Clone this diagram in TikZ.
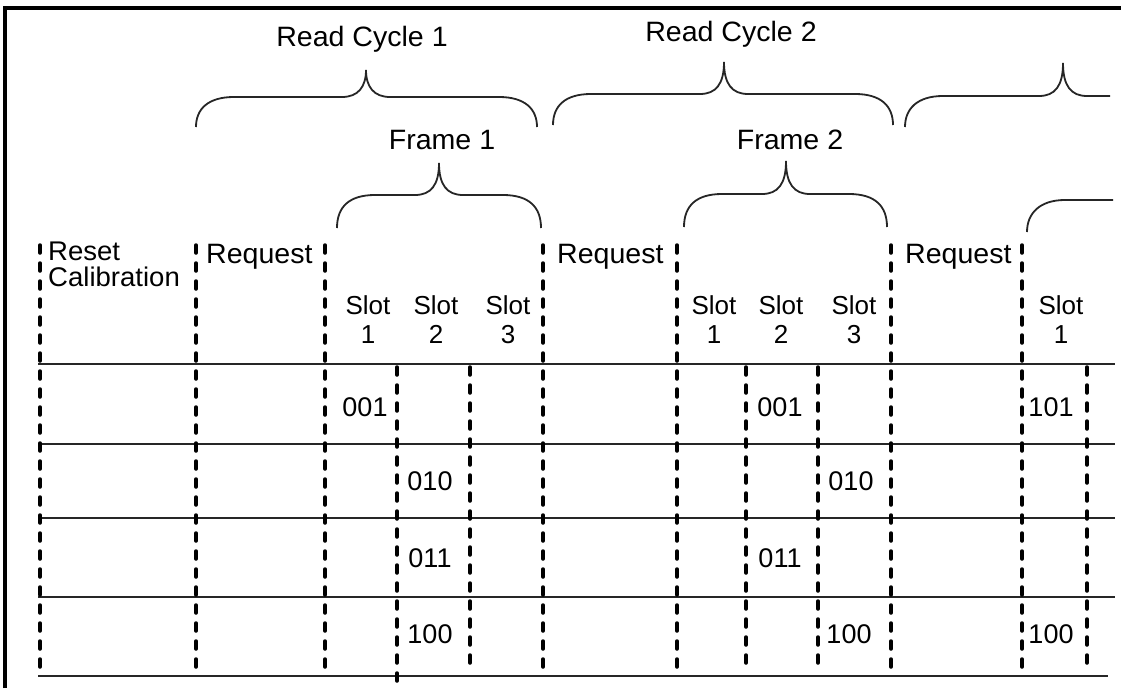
\documentclass[tikz,border=0pt]{standalone}
\usepackage{fontspec}
\setmainfont{Liberation Sans}
\newfontfamily\widesans{Liberation Sans}[FakeStretch=1.02]
\newcommand{\tmbrace}[6]{%
 \draw[brace] (#1,#4) .. controls (#1,{#5+12}) and ({#1+12},#5) .. ({#1+38},#5)
   -- ({#3-24},#5) .. controls ({#3-8},#5) and (#3,{#5-10}) .. (#3,#6)
   .. controls (#3,{#5-10}) and ({#3+8},#5) .. ({#3+24},#5)
   -- ({#2-38},#5) .. controls ({#2-12},#5) and (#2,{#5+12}) .. (#2,#4);}
\begin{document}
\begin{tikzpicture}[x=1pt,y=-1pt,
  dline/.style={line width=3.5pt, dash pattern=on 8pt off 10pt, line cap=round},
  hline/.style={line width=1.6pt, black!85},
  brace/.style={line width=1.8pt, black!85},
  lbl/.style={font=\widesans\fontsize{28}{30}\selectfont, inner sep=0pt},
  two/.style={inner sep=0pt, align=center, font=\fontsize{26}{29}\selectfont},
  cell/.style={inner sep=0pt, font=\fontsize{27}{30}\selectfont}]
\useasboundingbox (0,0) rectangle (1121,688);
\fill[white] (0,0) rectangle (1121,688);
% border
\draw[line width=3.5pt] (5,688) -- (5,8) -- (1121,8);
% braces
\tmbrace{196}{537}{366}{127}{97}{70}
\tmbrace{553}{893}{724}{125}{94}{62}
\draw[brace] (905,127) .. controls (905,109) and (917,96) .. (943,96) -- (1039,96)
  .. controls (1055,96) and (1063,86) .. (1063,63)
  .. controls (1063,86) and (1071,96) .. (1087,96) -- (1110,96);
\tmbrace{337}{541}{439}{228}{195}{163}
\tmbrace{684}{887}{786}{227}{194}{161}
\draw[brace] (1027,232) .. controls (1027,214) and (1039,200) .. (1065,200) -- (1113,200);
% labels
\node[lbl, anchor=base] (rc1) at (362,46) {Read Cycle 1};
\node[lbl, anchor=base] (rc2) at (731,41) {Read Cycle 2};
\node[lbl, anchor=base] (fr1) at (442,149) {Frame 1};
\node[lbl, anchor=base] (fr2) at (790,149) {Frame 2};
\node[lbl, align=left, anchor=south west, font=\widesans\fontsize{27}{26}\selectfont] (rs) at (48,287) {Reset\\Calibration};
\node[lbl, anchor=base west] (rq1) at (206,263) {Request};
\node[lbl, anchor=base west] (rq2) at (557,263) {Request};
\node[lbl, anchor=base west] (rq3) at (905,263) {Request};
\node[two, anchor=south] (s11) at (368,344) {Slot\\1};
\node[two, anchor=south] (s12) at (436,344) {Slot\\2};
\node[two, anchor=south] (s13) at (508,344) {Slot\\3};
\node[two, anchor=south] (s21) at (714,344) {Slot\\1};
\node[two, anchor=south] (s22) at (781,344) {Slot\\2};
\node[two, anchor=south] (s23) at (854,344) {Slot\\3};
\node[two, anchor=south] (s31) at (1061,344) {Slot\\1};
% horizontal lines
\foreach \y in {364,444,518,597} \draw[hline] (38,\y) -- (1115,\y);
\draw[hline] (38,676) -- (1108,676);
% dashed lines
\foreach \x in {40,196,325,543,677,891,1022} \draw[dline] (\x,245) -- (\x,668);
\foreach \x in {470,746,818,1087} \draw[dline] (\x,367) -- (\x,668);
\draw[dline] (397,367) -- (397,682);
% cells
\node[cell, anchor=base] (c1a) at (365,416) {001};
\node[cell, anchor=base] (c1b) at (780,416) {001};
\node[cell, anchor=base] (c1c) at (1051,416) {101};
\node[cell, anchor=base] (c2a) at (430,490) {010};
\node[cell, anchor=base] (c2b) at (851,490) {010};
\node[cell, anchor=base] (c3a) at (430,567) {011};
\node[cell, anchor=base] (c3b) at (780,567) {011};
\node[cell, anchor=base] (c4a) at (430,643) {100};
\node[cell, anchor=base] (c4b) at (849,643) {100};
\node[cell, anchor=base] (c4c) at (1051,643) {100};
\end{tikzpicture}
\end{document}
